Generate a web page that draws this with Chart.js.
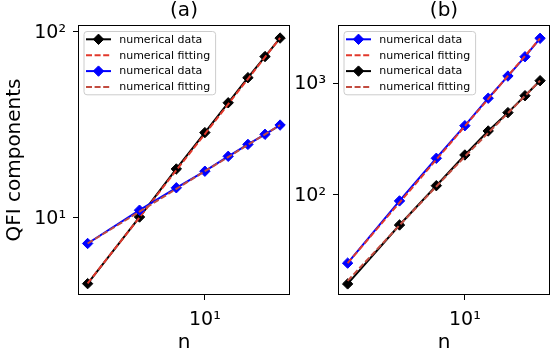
<!DOCTYPE html>
<html>
<head>
<meta charset="utf-8">
<script src="https://cdn.jsdelivr.net/npm/chart.js@4.4.1/dist/chart.umd.min.js"></script>
<style>
  html, body { margin: 0; padding: 0; background: #ffffff; }
  #wrap { position: relative; width: 557px; height: 354px; }
  canvas { position: absolute; left: 0; top: 0; }
</style>
</head>
<body>
<div id="wrap">
  <canvas id="chartA" width="557" height="354"></canvas>
  <canvas id="chartB" width="557" height="354"></canvas>
</div>
<script>
// ---------------- data ----------------
const nValues = [4, 6, 8, 10, 12, 14, 16, 18];

// panel (a)
const aBlackData = [4.43, 10.1, 18.3, 28.7, 41.5, 56.6, 73.5, 92.4];
const aBlackFit  = [4.44, 10.05, 18.0, 28.2, 40.8, 55.7, 73.0, 92.5];
const aBlueData  = [7.28, 10.99, 14.5, 17.8, 21.4, 24.8, 28.1, 31.5];
const aBlueFit   = [7.28, 10.8, 14.3, 17.8, 21.2, 24.7, 28.1, 31.5];

// panel (b)
const bBlueData  = [24.5, 88.4, 213, 417, 735, 1161, 1730, 2529];
const bBlueFit   = [24.5, 85.5, 207, 413, 724, 1164, 1758, 2529];
const bBlackData = [15.96, 53.8, 121, 228, 374, 546, 774, 1055];
const bBlackFit  = [17.0, 53.5, 119, 221, 360, 540, 770, 1057];

// ticks
const xTickValues = [10];
const xTickLabels = ['10¹'];
const aYTickValues = [10, 100];
const aYTickLabels = ['10¹', '10²'];
const bYTickValues = [100, 1000];
const bYTickLabels = ['10²', '10³'];

// texts
const titleA = '(a)';
const titleB = '(b)';
const yLabelA = 'QFI components';
const xLabel = 'n';
const labelData = 'numerical data';
const labelFit = 'numerical fitting';

// ---------------- styles ----------------
const FONT = "'DejaVu Sans', 'Liberation Sans', sans-serif";
const BLACK = '#000000';
const BLUE = '#0000ff';
const FIT1 = '#e2382b';
const FIT2 = '#c24c40';

function pts(ys) { return nValues.map((x, i) => ({ x: x, y: ys[i] })); }

function dataDs(label, ys, color, order) {
  return {
    label: label, data: pts(ys), borderColor: color, backgroundColor: color,
    borderWidth: 2, tension: 0, pointStyle: 'rectRot', pointRadius: 5.2,
    pointBorderWidth: 1, pointBorderColor: color, pointBackgroundColor: color,
    pointHoverRadius: 5.2, order: order
  };
}
function fitDs(label, ys, color, order) {
  return {
    label: label, data: pts(ys), borderColor: color, backgroundColor: color,
    borderWidth: 2, borderDash: [6, 2.6], tension: 0, pointRadius: 0,
    pointHoverRadius: 0, order: order
  };
}

const framePlugin = {
  id: 'frame',
  afterDatasetsDraw(chart) {
    const { ctx, chartArea: a } = chart;
    ctx.save();
    ctx.strokeStyle = '#000';
    ctx.lineWidth = 1;
    const l = Math.round(a.left) + 0.5, t = Math.round(a.top) + 0.5;
    const r = Math.round(a.right) - 0.5, b = Math.round(a.bottom) - 0.5;
    ctx.strokeRect(l, t, r - l, b - t);
    ctx.restore();
  }
};

const legendPlugin = {
  id: 'boxLegend',
  afterDraw(chart) {
    const { ctx, chartArea: a } = chart;
    const dss = chart.data.datasets;
    ctx.save();
    ctx.font = '11px ' + FONT;
    let maxW = 0;
    dss.forEach(d => { maxW = Math.max(maxW, ctx.measureText(d.label).width); });
    const bx = a.left + 5.5, by = a.top + 6;
    const textOff = 35.7;
    const rowH = 15.9;
    const bw = textOff + maxW + 5, bh = 8.3 + rowH * (dss.length - 1) + 7.3;
    ctx.beginPath();
    ctx.roundRect(bx + 0.5, by + 0.5, bw, bh, 3);
    ctx.fillStyle = 'rgba(255,255,255,0.8)';
    ctx.fill();
    ctx.strokeStyle = '#cccccc';
    ctx.lineWidth = 1;
    ctx.stroke();
    dss.forEach((d, i) => {
      const y = by + 8.3 + i * rowH;
      ctx.save();
      ctx.strokeStyle = d.borderColor;
      ctx.lineWidth = d.borderWidth;
      ctx.setLineDash(d.borderDash || []);
      ctx.beginPath();
      ctx.moveTo(bx + 2.5, y);
      ctx.lineTo(bx + 27.5, y);
      ctx.stroke();
      ctx.restore();
      if (d.pointRadius > 0) {
        ctx.save();
        ctx.fillStyle = d.pointBackgroundColor;
        ctx.strokeStyle = d.pointBorderColor;
        ctx.lineWidth = 1;
        Chart.helpers.drawPoint(ctx, { pointStyle: d.pointStyle, radius: d.pointRadius, borderWidth: 1, rotation: 0 }, bx + 15, y);
        ctx.restore();
      }
      ctx.fillStyle = '#000';
      ctx.textBaseline = 'middle';
      ctx.textAlign = 'left';
      ctx.fillText(d.label, bx + textOff, y + 0.5);
    });
    ctx.restore();
  }
};

function makeOptions(title, yLabel, yMin, yMax, yTicks, yLabels, padLeft, padRight) {
  const tickFont = { family: FONT, size: 19 };
  return {
    responsive: false,
    animation: false,
    devicePixelRatio: 1,
    layout: { padding: { left: padLeft, right: padRight, top: 0, bottom: 0 } },
    plugins: {
      legend: { display: false },
      tooltip: { enabled: false },
      title: {
        display: true, text: title, fullSize: false, color: '#000',
        font: { family: FONT, size: 20, weight: 'normal', lineHeight: 1 },
        padding: { top: 1, bottom: 4 }
      }
    },
    scales: {
      x: {
        type: 'logarithmic', position: 'bottom',
        min: 3.71, max: 19.45,
        afterFit: (s) => { s.height = 59; },
        afterBuildTicks: (s) => { s.ticks = xTickValues.map(v => ({ value: v, major: true })); },
        ticks: {
          autoSkip: false, maxRotation: 0, minRotation: 0, color: '#000', font: tickFont, padding: 9,
          callback: (v) => { const i = xTickValues.indexOf(v); return i >= 0 ? xTickLabels[i] : ''; }
        },
        grid: { display: true, drawOnChartArea: false, drawTicks: true, tickLength: 5, tickColor: '#000', tickWidth: 1 },
        border: { display: false },
        title: {
          display: true, text: xLabel, color: '#000',
          font: { family: FONT, size: 20, lineHeight: 1 }, padding: { top: 0, bottom: 1 }
        }
      },
      y: {
        type: 'logarithmic', position: 'left',
        min: yMin, max: yMax,
        afterFit: (s) => { s.width = 78; },
        afterBuildTicks: (s) => { s.ticks = yTicks.map(v => ({ value: v, major: true })); },
        ticks: {
          autoSkip: false, color: '#000', font: tickFont, padding: 7, labelOffset: 1,
          callback: (v) => { const i = yTicks.indexOf(v); return i >= 0 ? yLabels[i] : ''; }
        },
        grid: { display: true, drawOnChartArea: false, drawTicks: true, tickLength: 5, tickColor: '#000', tickWidth: 1 },
        border: { display: false },
        title: {
          display: !!yLabel, text: yLabel || '', color: '#000',
          font: { family: FONT, size: 20, lineHeight: 1 }, padding: { top: 4.5, bottom: 0 }
        }
      }
    }
  };
}

new Chart(document.getElementById('chartA'), {
  type: 'line',
  data: {
    datasets: [
      dataDs(labelData, aBlackData, BLACK, 4),
      fitDs(labelFit, aBlackFit, FIT1, 3),
      dataDs(labelData, aBlueData, BLUE, 2),
      fitDs(labelFit, aBlueFit, FIT2, 1)
    ]
  },
  options: makeOptions(titleA, yLabelA, 3.85, 108.6, aYTickValues, aYTickLabels, 0, 267),
  plugins: [framePlugin, legendPlugin]
});

new Chart(document.getElementById('chartB'), {
  type: 'line',
  data: {
    datasets: [
      dataDs(labelData, bBlueData, BLUE, 4),
      fitDs(labelFit, bBlueFit, FIT1, 3),
      dataDs(labelData, bBlackData, BLACK, 2),
      fitDs(labelFit, bBlackFit, FIT2, 1)
    ]
  },
  options: makeOptions(titleB, null, 12.7, 3327, bYTickValues, bYTickLabels, 260, 7),
  plugins: [framePlugin, legendPlugin]
});
</script>
</body>
</html>
